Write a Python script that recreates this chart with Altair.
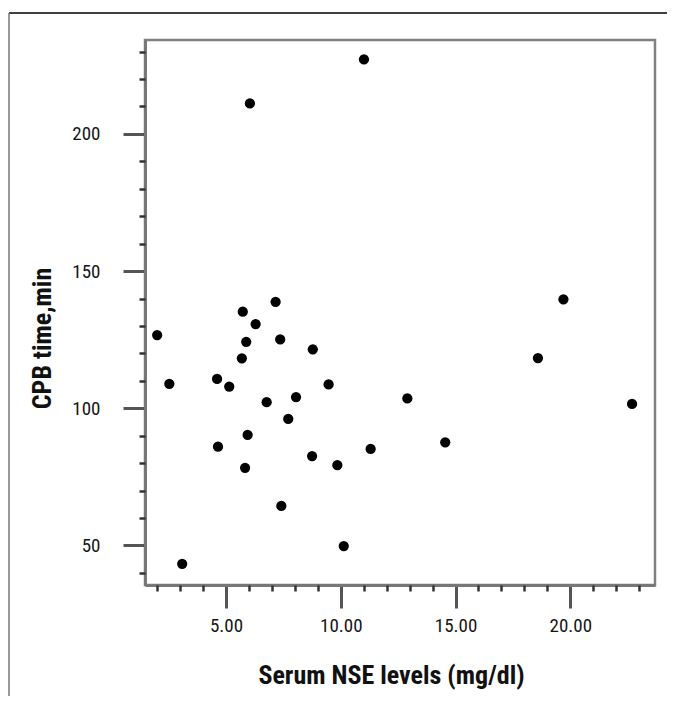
import altair as alt
import pandas as pd

# Serum NSE levels (mg/dl) and CPB time (min)
nse = [2.00, 2.53, 4.61, 5.14, 5.73, 6.29, 5.88, 5.69, 7.16, 7.36, 8.78, 9.47,
       8.05, 6.77, 7.71, 5.94, 4.65, 5.83, 8.75, 9.85, 11.30, 12.90, 7.41, 10.13,
       11.01, 6.04, 3.09, 14.55, 18.59, 19.70, 22.69]
cpb = [126.7, 108.9, 110.7, 107.9, 135.2, 130.7, 124.2, 118.2, 138.8, 125.1, 121.5, 108.7,
       104.1, 102.2, 96.1, 90.3, 86.0, 78.3, 82.6, 79.3, 85.2, 103.6, 64.4, 49.8,
       227.1, 211.1, 43.3, 87.6, 118.3, 139.7, 101.6]

x_major = [5, 10, 15, 20]
x_minor = [v for v in range(2, 24) if v % 5 != 0]
y_major = [50, 100, 150, 200]
y_minor = [v for v in range(40, 240, 10) if v % 50 != 0]

x_title = "Serum NSE levels (mg/dl)"
y_title = "CPB time,min"

df = pd.DataFrame({"nse": nse, "cpb": cpb})

FONT = '"Roboto Condensed", "Liberation Sans Narrow", Roboto, sans-serif'

xscale = alt.Scale(domain=[1.47, 23.69], nice=False, zero=False)
yscale = alt.Scale(domain=[35.6, 234.2], nice=False, zero=False)

base = alt.Chart(df)

points = base.mark_circle(size=105, color="black", opacity=1).encode(
    x=alt.X("nse:Q", scale=xscale, axis=alt.Axis(
        orient="bottom", values=x_major, format=".2f", grid=False,
        tickSize=23, tickWidth=3, tickColor="#555555",
        domainColor="#777777", domainWidth=3,
        labelFont=FONT, labelFontSize=19, labelColor="#151515", labelPadding=8,
        title=x_title, titleFont=FONT, titleFontSize=26, titleFontWeight="bold",
        titleColor="#111111", titleX=246, titleY=98, titleBaseline="alphabetic",
    )),
    y=alt.Y("cpb:Q", scale=yscale, axis=alt.Axis(
        orient="left", values=y_major, grid=False,
        tickSize=22, tickWidth=3, tickColor="#555555",
        domainColor="#777777", domainWidth=3,
        labelFont=FONT, labelFontSize=19, labelColor="#151515", labelPadding=23,
        title=y_title, titleFont=FONT, titleFontSize=26, titleFontWeight="bold",
        titleColor="#111111", titleX=-95, titleY=298, titleAngle=270,
        titleBaseline="alphabetic", titleAlign="center",
    )),
)

minor = base.mark_circle(opacity=0).encode(
    x=alt.X("nse:Q", scale=xscale, axis=alt.Axis(
        orient="bottom", values=x_minor, labels=False, domain=False, grid=False,
        tickSize=6, tickWidth=2.5, tickColor="#333333", title=None)),
    y=alt.Y("cpb:Q", scale=yscale, axis=alt.Axis(
        orient="left", values=y_minor, labels=False, domain=False, grid=False,
        tickSize=6, tickWidth=2.5, tickColor="#333333", title=None)),
)

one = pd.DataFrame({"a": [0]})
frame_top = alt.Chart(one).mark_rule(color="black", strokeWidth=1.5).encode(
    x=alt.value(-136), x2=alt.value(530), y=alt.value(-27))
frame_left = alt.Chart(one).mark_rule(color="#777777", strokeWidth=1.5).encode(
    x=alt.value(-136), y=alt.value(-27), y2=alt.value(660))

chart = alt.layer(points, minor, frame_top, frame_left).resolve_axis(
    x="independent", y="independent"
).properties(
    width=510, height=545,
    background="white",
    autosize=alt.AutoSizeParams(type="none"),
    padding={"left": 137, "top": 32, "right": 12, "bottom": 111},
).configure_view(
    stroke="#808080", strokeWidth=2.5
)

chart.save("out.html", embed_options={"renderer": "svg", "actions": False})
